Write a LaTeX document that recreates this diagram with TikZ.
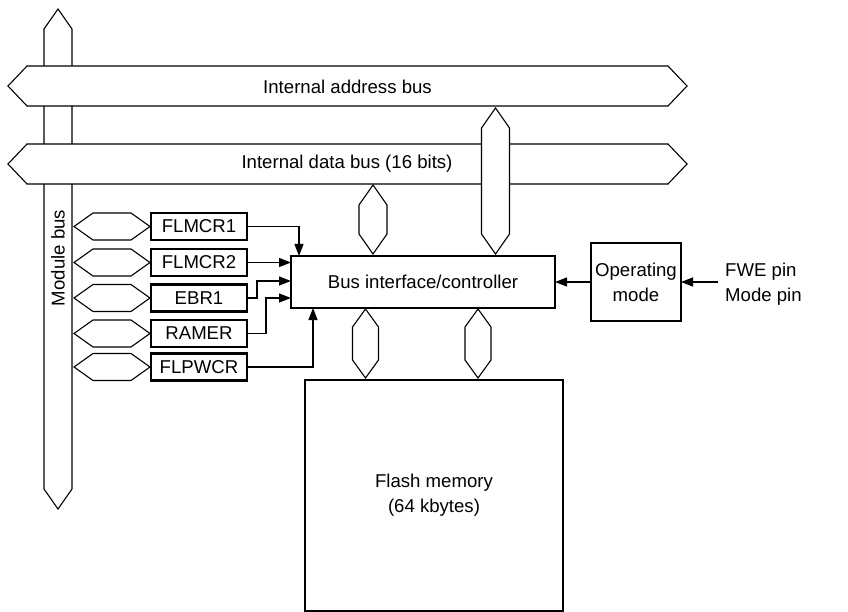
\documentclass[tikz,border=0pt]{standalone}
\usepackage{fontspec}
\setmainfont{Liberation Sans}
\usetikzlibrary{arrows.meta,calc}
\newcommand\myvhex[5]{% cx, halfwidth, top tip, bottom tip, shoulder
  \filldraw[bus] (#1,#3) -- ($(#1,#3)+(#2,#5)$) -- ($(#1,#4)+(#2,-#5)$) -- (#1,#4)
    -- ($(#1,#4)+(-#2,-#5)$) -- ($(#1,#3)+(-#2,#5)$) -- cycle;}
\newcommand\myhhex[5]{% cy, halfheight, left tip, right tip, shoulder
  \filldraw[bus] (#3,#1) -- ($(#3,#1)+(#5,-#2)$) -- ($(#4,#1)+(-#5,-#2)$) -- (#4,#1)
    -- ($(#4,#1)+(-#5,#2)$) -- ($(#3,#1)+(#5,#2)$) -- cycle;}
\begin{document}
\begin{tikzpicture}[x=1pt,y=-1pt,
  font=\fontsize{18.6}{25}\selectfont,
  bus/.style={draw=black,fill=white,line width=1.1pt,line join=miter},
  blk/.style={draw=black,fill=white,line width=2.2pt,inner sep=0pt,outer sep=0pt,align=center},
  reg/.style={blk,minimum width=96pt,minimum height=27pt},
  arr/.style={line width=1.1pt,-{Triangle[length=12pt,width=9pt]}},
  lbl/.style={inner sep=0pt}]
\useasboundingbox (0,0) rectangle (848,612);
% module bus
\myvhex{58}{14}{9}{509}{20}
\node[lbl,rotate=90] (mbus) at (58,258) {Module bus};
% horizontal buses
\myhhex{86}{20}{8}{687}{19}
\node[lbl] (abus) at (347.5,87) {Internal address bus};
\myhhex{164}{20}{8}{687}{19}
\node[lbl] (dbus) at (347,164) {Internal data bus (16 bits)};
% vertical bus from address bus
\myvhex{495.5}{14}{108}{254}{20}
% data bus to controller
\myvhex{373}{14}{185}{254}{20}
% controller
\node[blk,minimum width=264pt,minimum height=52pt] (ctrl) at (423,282) {Bus interface/controller};
% operating mode
\node[blk,minimum width=90pt,minimum height=78pt] (op) at (636,282) {Operating\\mode};
\coordinate (pin) at (718,282);
\node[lbl,anchor=west,align=left] (pins) at (725,284) {FWE pin\\Mode pin};
\draw[arr] (op.west) -- (ctrl.east);
\draw[arr] (pin) -- (op.east);
% controller to flash
\myvhex{365.5}{13}{309}{378}{18}
\myvhex{478}{13}{309}{378}{18}
\node[blk,minimum width=258pt,minimum height=231pt] (flash) at (434,495.5) {Flash memory\\(64 kbytes)};
% registers
\foreach \n/\t/\y in {r1/FLMCR1/226.5, r2/FLMCR2/262.5, r3/EBR1/298, r4/RAMER/333.5, r5/FLPWCR/367}{
  \myhhex{\y}{13.5}{74}{150}{19}
  \node[reg] (\n) at (199,\y) {\t};
}
\draw[arr] (r1.east) -| ($(ctrl.north west)+(8,0)$);
\draw[arr] (r2.east) -- (r2.east -| ctrl.west);
\draw[arr] (r3.east) -- ++(10,0) |- ($(ctrl.west)+(0,-1)$);
\draw[arr] (r4.east) -- ++(19,0) |- ($(ctrl.west)+(0,16)$);
\draw[arr] (r5.east) -| ($(ctrl.south west)+(22,0)$);
\end{tikzpicture}
\end{document}
